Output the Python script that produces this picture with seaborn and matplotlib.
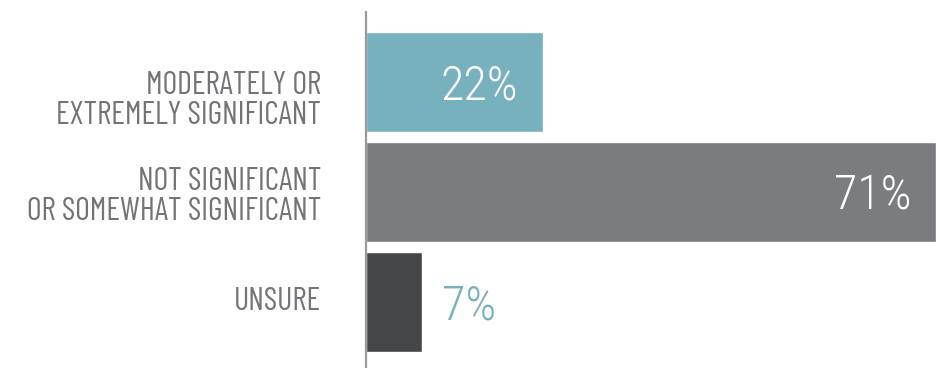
import matplotlib
matplotlib.use("Agg")
import matplotlib.pyplot as plt
import matplotlib.transforms as mtransforms
import seaborn as sns
import pandas as pd

categories = [
    "MODERATELY OR\nEXTREMELY SIGNIFICANT",
    "NOT SIGNIFICANT\nOR SOMEWHAT SIGNIFICANT",
    "UNSURE",
]
values = [22, 71, 7]
value_labels = ["22%", "71%", "7%"]
bar_colors = ["#76b1bd", "#7b7c80", "#454648"]

sns.set_theme(style="white")
label_font = ["Barlow Condensed", "Roboto Condensed", "DejaVu Sans"]
number_font = ["Roboto Condensed", "DejaVu Sans"]
plt.rcParams["font.family"] = label_font

W, H = 940, 368
DPI = 100
fig = plt.figure(figsize=(W / DPI, H / DPI), dpi=DPI)
ax_left, ax_top = 366, 12
ax = fig.add_axes([ax_left / W, 0, (W - ax_left) / W, (H - ax_top) / H])

df = pd.DataFrame({"category": categories, "value": values})
sns.barplot(data=df, x="value", y="category", hue="category",
            palette=bar_colors, width=100 / 110, legend=False, ax=ax,
            saturation=1)

px_per_unit = 570 / 71
ax.set_xlim(0, (W - ax_left) / px_per_unit)
ax.set_ylim(2 + (H - 302) / 110, -(82 - ax_top) / 110)

for s in ["top", "right", "bottom"]:
    ax.spines[s].set_visible(False)
ax.spines["left"].set_color("#9a9a9a")
ax.spines["left"].set_linewidth(1.6)
ax.set_xticks([])
ax.set_xlabel("")
ax.set_ylabel("")

pt = 72 / DPI  # points per pixel
ax.tick_params(axis="y", length=0, pad=45 * pt)
ax.set_yticks(range(len(categories)))
ax.set_yticklabels(categories, fontsize=32 * pt, color="#737477",
                   ha="right", linespacing=1.0, fontweight="normal")
# vertical nudges of the category labels, in pixels (positive = down)
label_shift = [16, 2, -3]
for lbl, dy in zip(ax.get_yticklabels(), label_shift):
    lbl.set_transform(lbl.get_transform() +
                      mtransforms.ScaledTranslation(0, -dy / DPI, fig.dpi_scale_trans))

# value labels: baseline sits half a cap height below the bar centre
for i, (v, lab) in enumerate(zip(values, value_labels)):
    inside = v >= 15
    ax.annotate(lab, (v, i),
                xytext=((-25 if inside else 20) * pt, -17 * pt),
                textcoords="offset points",
                ha="right" if inside else "left", va="baseline",
                color="white" if inside else "#76b1bd",
                fontsize=48 * pt, fontweight="light", family=number_font)

fig.savefig("out.png", dpi=DPI)
